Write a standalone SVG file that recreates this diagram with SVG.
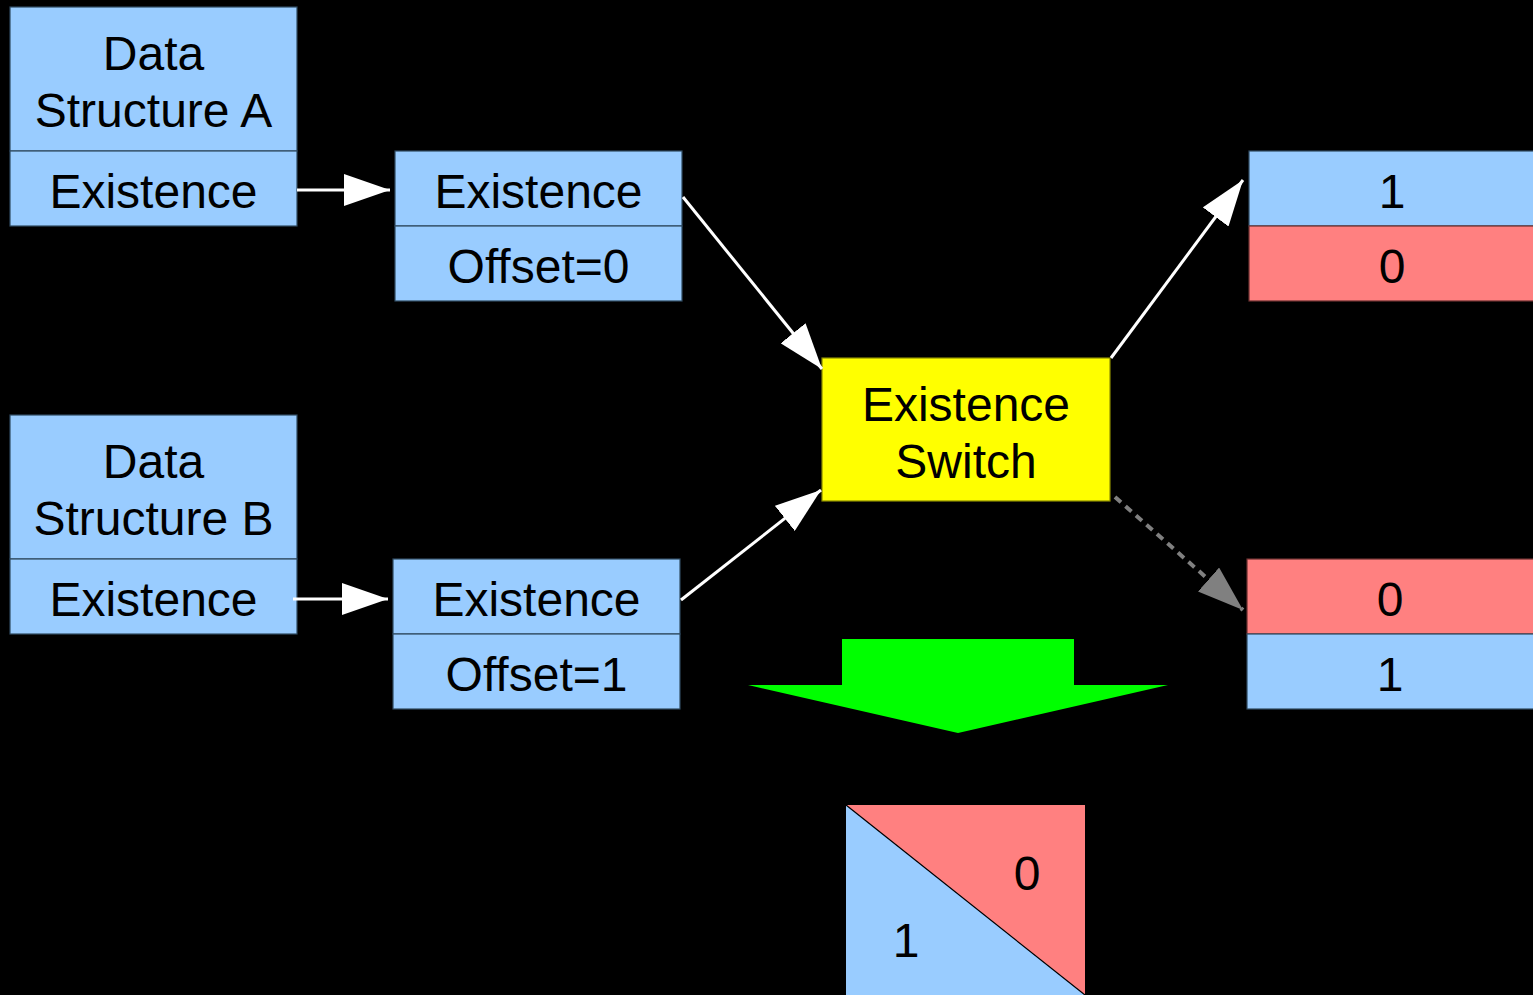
<svg xmlns="http://www.w3.org/2000/svg" width="1533" height="995" viewBox="0 0 1533 995">
<style>
.blue{fill:#99ccff;stroke:#2f4a60;stroke-width:1.2}
.red{fill:#ff8080;stroke:#6a3030;stroke-width:1.2}
.t{font-family:"Liberation Sans",Arial,sans-serif;font-size:48px;fill:#000;text-anchor:middle}
.con{stroke:#fff;stroke-width:3;fill:none}
.dash{stroke:#808080;stroke-width:4;fill:none;stroke-dasharray:8 6}
</style>
<defs>
<marker id="ah" markerUnits="userSpaceOnUse" markerWidth="48" markerHeight="32" refX="46" refY="16" orient="auto" viewBox="0 0 48 32">
<path d="M0,0 L46,16 L0,32 Z" fill="#fff"/>
</marker>
<marker id="ahg" markerUnits="userSpaceOnUse" markerWidth="48" markerHeight="32" refX="46" refY="16" orient="auto" viewBox="0 0 48 32">
<path d="M0,0 L46,16 L0,32 Z" fill="#808080"/>
</marker>
</defs>
<rect width="1533" height="995" fill="#000"/>
<g id="dsA">
<rect class="blue" x="10" y="7" width="287" height="144"/>
<rect class="blue" x="10" y="151" width="287" height="75"/>
<text class="t" x="153.5" y="70">Data</text>
<text class="t" x="153.5" y="127">Structure A</text>
<text class="t" x="153.5" y="208">Existence</text>
</g>
<g id="offA">
<rect class="blue" x="395" y="151" width="287" height="75"/>
<rect class="blue" x="395" y="226" width="287" height="75"/>
<text class="t" x="538.5" y="208">Existence</text>
<text class="t" x="538.5" y="283">Offset=0</text>
</g>
<g id="dsB">
<rect class="blue" x="10" y="415" width="287" height="144"/>
<rect class="blue" x="10" y="559" width="287" height="75"/>
<text class="t" x="153.5" y="478">Data</text>
<text class="t" x="153.5" y="535">Structure B</text>
<text class="t" x="153.5" y="616">Existence</text>
</g>
<g id="offB">
<rect class="blue" x="393" y="559" width="287" height="75"/>
<rect class="blue" x="393" y="634" width="287" height="75"/>
<text class="t" x="536.5" y="616">Existence</text>
<text class="t" x="536.5" y="691">Offset=1</text>
</g>
<g id="switch">
<rect x="822" y="358" width="288" height="143" fill="#ffff00" stroke="#8a8a00" stroke-width="1.2"/>
<text class="t" x="966" y="421">Existence</text>
<text class="t" x="966" y="478">Switch</text>
</g>
<g id="out1">
<rect class="blue" x="1249" y="151" width="290" height="75"/>
<rect class="red" x="1249" y="226" width="290" height="75"/>
<text class="t" x="1392" y="208">1</text>
<text class="t" x="1392" y="283">0</text>
</g>
<g id="out2">
<rect class="red" x="1247" y="559" width="292" height="75"/>
<rect class="blue" x="1247" y="634" width="292" height="75"/>
<text class="t" x="1390" y="616">0</text>
<text class="t" x="1390" y="691">1</text>
</g>
<g id="bigArrow">
<path d="M842,639 L1074,639 L1074,685 L1168,685 L958,733 L748,685 L842,685 Z" fill="#00ff00"/>
</g>
<g id="result">
<path d="M846,805 L1085,805 L1085,995 Z" fill="#ff8080"/>
<path d="M846,805 L1085,995 L846,995 Z" fill="#99ccff"/>
<line x1="846" y1="805" x2="1085" y2="995" stroke="#000" stroke-width="1.2"/>
<text class="t" x="1027" y="890">0</text>
<text class="t" x="906" y="957">1</text>
</g>
<g id="connectors">
<line class="con" x1="297" y1="190" x2="390" y2="190" marker-end="url(#ah)"/>
<line class="con" x1="293" y1="599" x2="388" y2="599" marker-end="url(#ah)"/>
<line class="con" x1="683" y1="197" x2="822" y2="369" marker-end="url(#ah)"/>
<line class="con" x1="681" y1="600" x2="821" y2="490" marker-end="url(#ah)"/>
<line class="con" x1="1111" y1="358" x2="1243" y2="180" marker-end="url(#ah)"/>
<line class="dash" x1="1115" y1="497" x2="1243" y2="610" marker-end="url(#ahg)"/>
</g>
</svg>
